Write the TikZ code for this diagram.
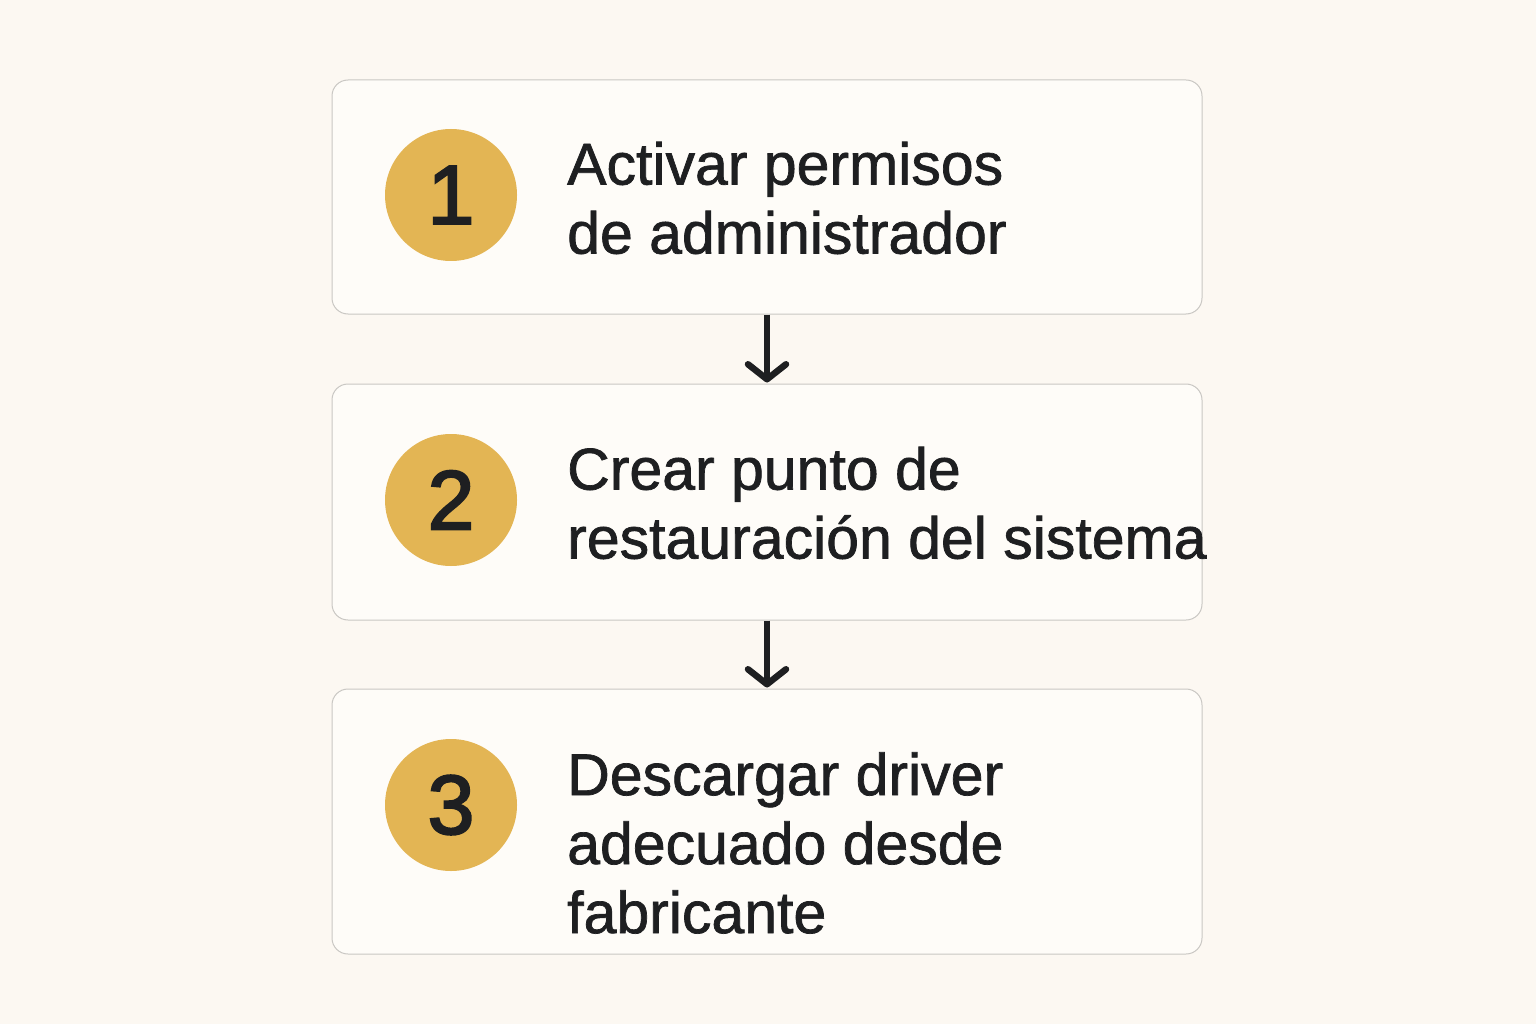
\documentclass[tikz,border=0pt]{standalone}
\usepackage{fontspec}
\setmainfont{Liberation Sans}
\usetikzlibrary{arrows.meta}
\definecolor{bgc}{HTML}{FCF8F2}
\definecolor{boxc}{HTML}{FEFCF8}
\definecolor{edgec}{HTML}{C9C7C3}
\definecolor{goldc}{HTML}{E3B554}
\definecolor{inkc}{HTML}{1E1F21}
\begin{document}
\begin{tikzpicture}[x=1pt,y=-1pt,
  stepbox/.style={draw=edgec, line width=1pt, fill=boxc, rounded corners=16pt, minimum width=870pt, inner sep=0pt},
  numdot/.style={circle, fill=goldc, minimum size=132pt, inner sep=0pt, text=inkc, font=\fontsize{84}{84}\selectfont\addfontfeature{FakeBold=2.5}},
  steptext/.style={anchor=west, align=left, text=inkc, inner sep=0pt, font=\fontsize{59}{69}\selectfont\addfontfeature{FakeBold=1.2}},
  arr/.style={draw=inkc, line width=6.5pt, line cap=butt, -{Straight Barb[length=15pt, width=38pt, line width=6.5pt, round]}}
  ]
\useasboundingbox (0,0) rectangle (1536,1024);
\fill[bgc] (0,0) rectangle (1536,1024);
\node[stepbox, minimum height=234pt] (b1) at (767,197) {};
\node[stepbox, minimum height=236pt] (b2) at (767,502) {};
\node[stepbox, minimum height=265pt] (b3) at (767,821.5) {};
\node[numdot] (c1) at (451,195) {1};
\node[numdot] (c2) at (451,500) {2};
\node[numdot] (c3) at (451,805) {3};
\node[steptext] (t1) at (567,198) {Activar permisos\\de administrador};
\node[steptext] (t2) at (567,503) {Crear punto de\\restauración del sistema};
\node[steptext] (t3) at (567,843) {Descargar driver\\adecuado desde\\fabricante};
\draw[arr] (b1.south) -- ([yshift=1pt]b2.north);
\draw[arr] (b2.south) -- ([yshift=1pt]b3.north);
\end{tikzpicture}
\end{document}
